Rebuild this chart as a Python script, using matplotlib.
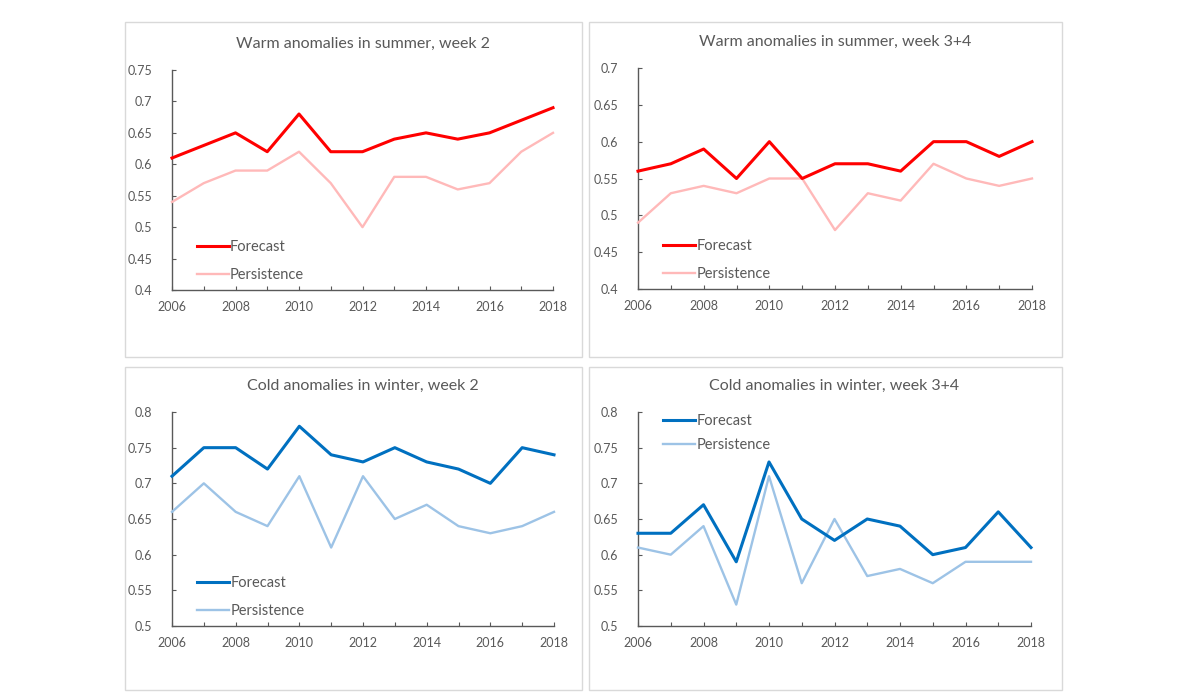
import matplotlib.pyplot as plt
from matplotlib.patches import Rectangle

years = list(range(2006, 2019))

# summer, week 2
summer_w2_fc = [0.61, 0.63, 0.65, 0.62, 0.68, 0.62, 0.62, 0.64, 0.65, 0.64, 0.65, 0.67, 0.69]
summer_w2_pe = [0.54, 0.57, 0.59, 0.59, 0.62, 0.57, 0.50, 0.58, 0.58, 0.56, 0.57, 0.62, 0.65]

# summer, week 3+4
summer_w34_fc = [0.56, 0.57, 0.59, 0.55, 0.60, 0.55, 0.57, 0.57, 0.56, 0.60, 0.60, 0.58, 0.60]
summer_w34_pe = [0.49, 0.53, 0.54, 0.53, 0.55, 0.55, 0.48, 0.53, 0.52, 0.57, 0.55, 0.54, 0.55]

# winter, week 2
winter_w2_fc = [0.71, 0.75, 0.75, 0.72, 0.78, 0.74, 0.73, 0.75, 0.73, 0.72, 0.70, 0.75, 0.74]
winter_w2_pe = [0.66, 0.70, 0.66, 0.64, 0.71, 0.61, 0.71, 0.65, 0.67, 0.64, 0.63, 0.64, 0.66]

# winter, week 3+4
winter_w34_fc = [0.63, 0.63, 0.67, 0.59, 0.73, 0.65, 0.62, 0.65, 0.64, 0.60, 0.61, 0.66, 0.61]
winter_w34_pe = [0.61, 0.60, 0.64, 0.53, 0.71, 0.56, 0.65, 0.57, 0.58, 0.56, 0.59, 0.59, 0.59]

plt.rcParams["font.family"] = ["Lato", "DejaVu Sans"]
TXT = "#595959"

W, H = 1200, 699
fig = plt.figure(figsize=(12, 6.99), dpi=100)


def px_axes(x0, x1, y0, y1):
    # pixel coords (top-left origin) -> figure fraction
    return fig.add_axes([x0 / W, 1 - y1 / H, (x1 - x0) / W, (y1 - y0) / H])


def panel_box(x0, x1, y0, y1):
    fig.patches.append(Rectangle((x0 / W, 1 - y1 / H), (x1 - x0) / W, (y1 - y0) / H,
                                 transform=fig.transFigure, fill=False,
                                 edgecolor="#d9d9d9", lw=1.0))


panels = [
    # box, axes, title, ylim, yticks, data, colors, legend loc
    ((125, 582, 22, 357), (172, 553, 70, 290), "Warm anomalies in summer, week 2",
     (0.4, 0.75), [0.4, 0.45, 0.5, 0.55, 0.6, 0.65, 0.7, 0.75],
     summer_w2_fc, summer_w2_pe, ("#ff0000", "#ffb9b9"), "lower left"),
    ((589, 1062, 22, 357), (638, 1032, 68, 289), "Warm anomalies in summer, week 3+4",
     (0.4, 0.7), [0.4, 0.45, 0.5, 0.55, 0.6, 0.65, 0.7],
     summer_w34_fc, summer_w34_pe, ("#ff0000", "#ffb9b9"), "lower left"),
    ((125, 582, 367, 690), (172, 554, 412, 626), "Cold anomalies in winter, week 2",
     (0.5, 0.8), [0.5, 0.55, 0.6, 0.65, 0.7, 0.75, 0.8],
     winter_w2_fc, winter_w2_pe, ("#0070c0", "#9dc3e6"), "lower left"),
    ((589, 1062, 367, 690), (638, 1031, 412, 626), "Cold anomalies in winter, week 3+4",
     (0.5, 0.8), [0.5, 0.55, 0.6, 0.65, 0.7, 0.75, 0.8],
     winter_w34_fc, winter_w34_pe, ("#0070c0", "#9dc3e6"), "upper left"),
]

for box, ax_px, title, ylim, yticks, fc, pe, cols, loc in panels:
    panel_box(*box)
    ax = px_axes(*ax_px)
    ax.plot(years, fc, color=cols[0], lw=2.2, label="Forecast",
            solid_joinstyle="round", clip_on=False, zorder=4)
    ax.plot(years, pe, color=cols[1], lw=1.7, label="Persistence",
            solid_joinstyle="round", clip_on=False, zorder=3)
    ax.set_xlim(2006, 2018)
    ax.set_ylim(*ylim)
    ax.set_yticks(yticks)
    ax.set_yticklabels([f"{v:g}" for v in yticks])
    ax.set_xticks(years)
    ax.set_xticklabels([str(y) if y % 2 == 0 else "" for y in years])
    for s in ("top", "right"):
        ax.spines[s].set_visible(False)
    for s in ("left", "bottom"):
        ax.spines[s].set_color(TXT)
        ax.spines[s].set_linewidth(1.0)
    ax.tick_params(direction="in", length=3, width=0.8, color=TXT,
                   labelsize=9, labelcolor=TXT)
    ax.tick_params(axis="y", pad=14)
    ax.tick_params(axis="x", pad=8)
    ax.set_title(title, fontsize=11.5, color=TXT, pad=16)
    if loc == "upper left":
        leg = ax.legend(loc="upper left", bbox_to_anchor=(0.03, 1.05), frameon=False,
                        fontsize=10.5, handlelength=2.2, handletextpad=0.1,
                        labelspacing=0.65)
    else:
        leg = ax.legend(loc="lower left", bbox_to_anchor=(0.03, -0.025), frameon=False,
                        fontsize=10.5, handlelength=2.2, handletextpad=0.1,
                        labelspacing=1.0)
    for t in leg.get_texts():
        t.set_color(TXT)

fig.savefig("out.png", dpi=100)
